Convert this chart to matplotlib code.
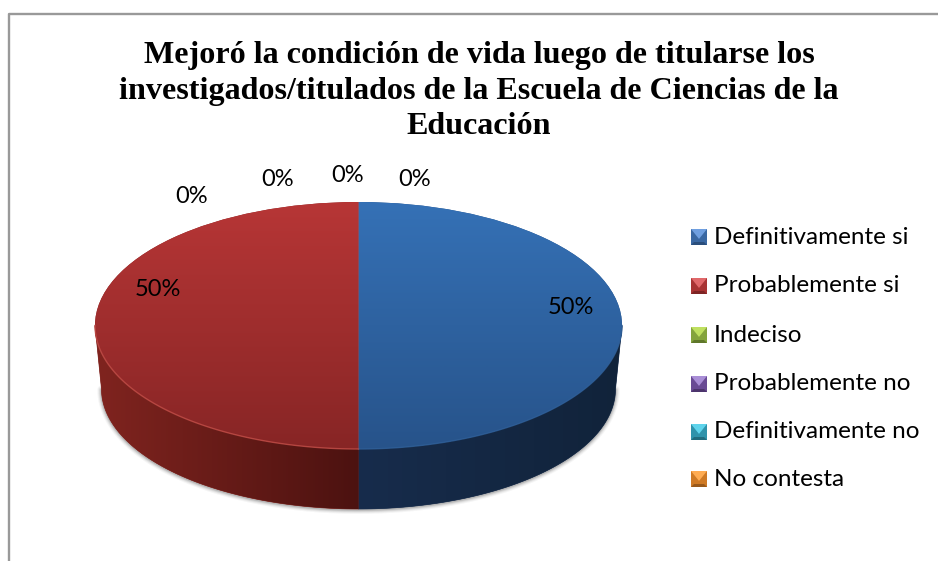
import numpy as np
import matplotlib
matplotlib.use('Agg')
import matplotlib.pyplot as plt
from matplotlib.colors import LinearSegmentedColormap
from matplotlib.patches import Polygon, Rectangle

W, H = 938, 561

title = 'Mejoró la condición de vida luego de titularse los\ninvestigados/titulados de la Escuela de Ciencias de la\nEducación'
categories = ['Definitivamente si', 'Probablemente si', 'Indeciso',
              'Probablemente no', 'Definitivamente no', 'No contesta']
values = [50, 50, 0, 0, 0, 0]
percent_labels = ['50%', '50%', '0%', '0%', '0%', '0%']
label_pos = [(571, 307), (158, 289), (192, 197), (278, 180), (348, 175), (415, 179)]
legend_y = [237, 286, 335, 384, 432, 479]

# top of the slice: colour at top and bottom of the ellipse
top_colors = [('#3571b6', '#27538a'), ('#b73636', '#872525')]
# wall of the slice: colour from left to right
side_colors = [('#172c4c', '#11233a'), ('#80241f', '#4c1210')]
rim_colors = ['#2f5f98', '#c24e48']
# legend bevel: light, mid, dark
swatch_colors = [('#6f9fe0', '#3a68a3', '#2a4e7c'), ('#e0686a', '#a83333', '#7e2424'),
                 ('#bfe060', '#84a43c', '#5f772a'), ('#a98ed6', '#694a94', '#4c346c'),
                 ('#5fd4ec', '#2f93ab', '#216c7e'), ('#ffac52', '#cf7a25', '#99591a')]

PIE_L, PIE_R, PIE_T, PIE_B = 95, 622, 202, 449
RY = (PIE_B - PIE_T) / 2
RX = (PIE_R - PIE_L) / 2
# the bottom ellipse of the wall is a bit smaller (perspective)
BOTTOM_DY = 63.5 / RY
BOTTOM_SX = 257 / RX
BOTTOM_SY = 120 / RY

plt.rcParams['font.family'] = ['Lato', 'DejaVu Sans']
fig = plt.figure(figsize=(W / 100, H / 100), dpi=100, facecolor='white')


def fx(px):
    return px / W


def fy(py):
    return 1 - py / H


# grey frame, open at the bottom and on the right like the original crop
fig.add_artist(plt.Line2D([fx(8.5), fx(8.5), fx(938)], [fy(561), fy(13.5), fy(13.5)],
                          color='#999999', lw=1.7))

ax = fig.add_axes([fx(PIE_L - 20), fy(PIE_B + 90), (PIE_R - PIE_L + 40) / W, (PIE_B - PIE_T + 90) / H])
wedges, _ = ax.pie(values, colors=[c[1] for c in top_colors] + ['white'] * 4, startangle=90,
                   counterclock=False, radius=1, center=(0, 0), frame=False)
for w, v in zip(wedges, values):
    w.set_zorder(5)
    w.set_visible(v > 0)

# soft shadow under the outer edge of the wall
t = np.radians(np.linspace(180, 360, 200))
outline = np.column_stack([BOTTOM_SX * np.cos(t), BOTTOM_SY * np.sin(t) - BOTTOM_DY])
for lw, a in zip([6, 4.5, 3, 1.5], [0.05, 0.08, 0.12, 0.18]):
    ax.plot(outline[:, 0], outline[:, 1] - 0.006, color='#404040', alpha=a, lw=lw, zorder=1,
            solid_capstyle='round')

for w, v, tc, sc, rim in zip(wedges, values, top_colors, side_colors, rim_colors):
    grad = ax.imshow(np.linspace(1, 0, 256).reshape(-1, 1), extent=(-1, 1, -1, 1), aspect='auto',
                     cmap=LinearSegmentedColormap.from_list('t', [tc[1], tc[0]]), zorder=6)
    grad.set_clip_path(w)

    # front part of the wall, only where the slice faces the viewer
    a1, a2 = w.theta1, w.theta2
    if a2 <= 90.01:
        a1, a2 = max(a1, -180), min(a2, 0)
    else:
        a1, a2 = max(a1, 180), min(a2, 360)
    arc = np.radians(np.linspace(a1, a2, 100))
    x, y = np.cos(arc), np.sin(arc)
    xb, yb = BOTTOM_SX * x, BOTTOM_SY * y - BOTTOM_DY
    pts = np.vstack([np.column_stack([x, y]), np.column_stack([xb[::-1], yb[::-1]])])
    wall = Polygon(pts, closed=True, facecolor=sc[0], edgecolor=sc[0], lw=0.5, zorder=2,
                   transform=ax.transData)
    ax.add_patch(wall)
    side = ax.imshow(np.linspace(0, 1, 256).reshape(1, -1), extent=(x.min(), x.max(), yb.min(), 0),
                     aspect='auto', cmap=LinearSegmentedColormap.from_list('s', list(sc)), zorder=3)
    side.set_clip_path(wall)

    # light rim along the front of the top face
    ax.plot(x, y, color=rim, lw=1.0, alpha=0.8, zorder=7)

ax.set_aspect('auto')
ax.set_xlim(-1 - 20 / RX, 1 + 20 / RX)
ax.set_ylim(-1 - 90 / RY, 1)

fig.text(fx(479), fy(91), title, family=['Liberation Serif'], weight='bold', fontsize=23.1,
         ha='center', va='center', linespacing=1.29, color='black')

for txt, (px, py) in zip(percent_labels, label_pos):
    fig.text(fx(px), fy(py), txt, fontsize=17, ha='center', va='center', color='black', zorder=10)

SW = 16
for name, py, (light, mid, dark) in zip(categories, legend_y, swatch_colors):
    x0, y0 = 691, py - SW / 2
    x1, y1 = x0 + SW, y0 + SW
    xc, yc = x0 + SW / 2, y0 + SW * 0.62
    fig.add_artist(Rectangle((fx(x0), fy(y1)), SW / W, SW / H, facecolor=mid, edgecolor='none',
                             transform=fig.transFigure))
    fig.add_artist(Polygon([(fx(x0), fy(y0)), (fx(x1), fy(y0)), (fx(xc), fy(yc))], facecolor=light,
                           edgecolor='none', transform=fig.transFigure))
    fig.add_artist(Polygon([(fx(x0), fy(y1)), (fx(x1), fy(y1)), (fx(x1 - 3), fy(y1 - 3)), (fx(x0 + 3), fy(y1 - 3))],
                           facecolor=dark, edgecolor='none', transform=fig.transFigure))
    fig.text(fx(714), fy(py), name, fontsize=17.5, ha='left', va='center', color='black')

fig.savefig('out.png', dpi=100)
